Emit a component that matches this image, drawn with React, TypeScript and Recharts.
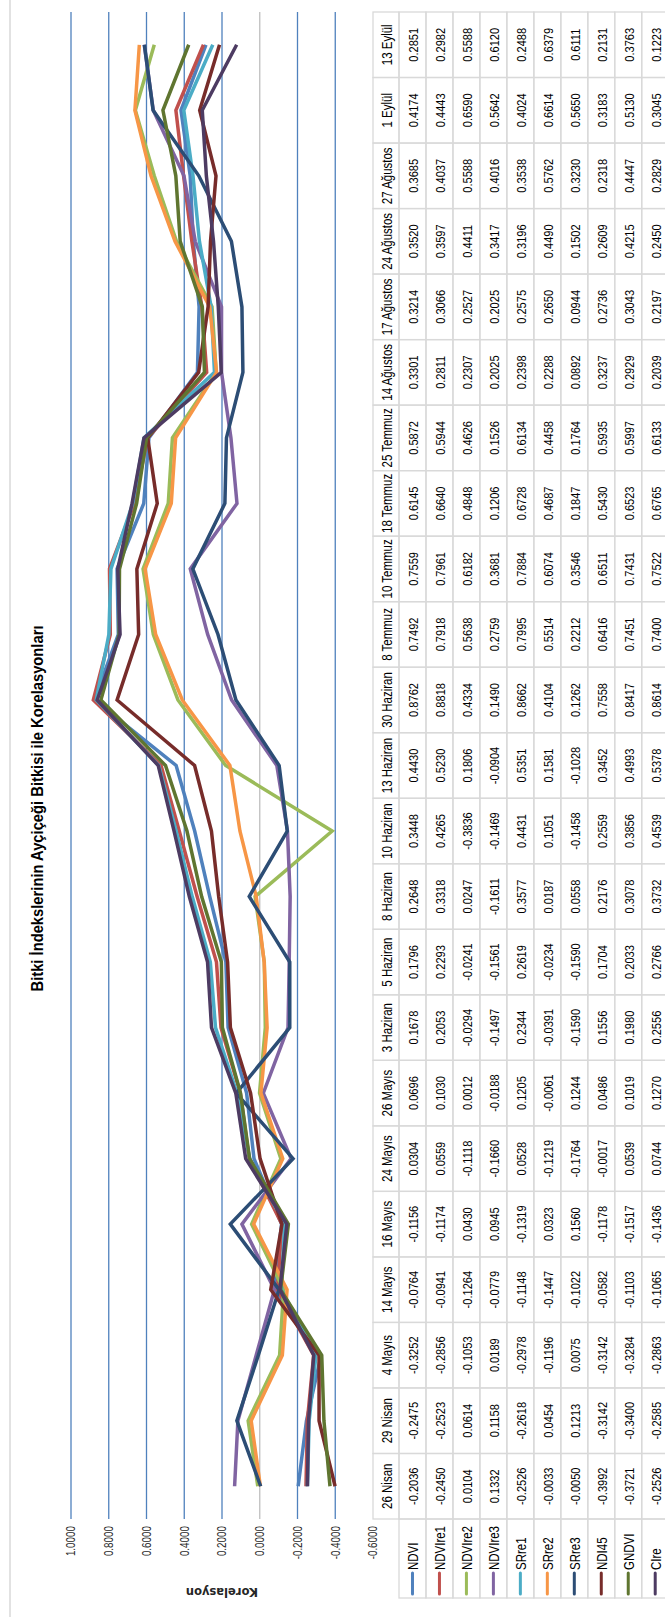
import React from 'react';
import { LineChart, Line, XAxis, YAxis, ReferenceLine } from 'recharts';

// Sampling dates (category axis)
const DATES = [
  '26 Nisan', '29 Nisan', '4 Mayıs', '14 Mayıs', '16 Mayıs', '24 Mayıs', '26 Mayıs',
  '3 Haziran', '5 Haziran', '8 Haziran', '10 Haziran', '13 Haziran', '30 Haziran',
  '8 Temmuz', '10 Temmuz', '18 Temmuz', '25 Temmuz', '14 Ağustos', '17 Ağustos',
  '24 Ağustos', '27 Ağustos', '1 Eylül', '13 Eylül',
];

// Correlation values per vegetation index
const NDVI = [-0.2036, -0.2475, -0.3252, -0.0764, -0.1156, 0.0304, 0.0696, 0.1678, 0.1796, 0.2648, 0.3448, 0.4430, 0.8762, 0.7492, 0.7559, 0.6145, 0.5872, 0.3301, 0.3214, 0.3520, 0.3685, 0.4174, 0.2851];
const NDVIre1 = [-0.2450, -0.2523, -0.2856, -0.0941, -0.1174, 0.0559, 0.1030, 0.2053, 0.2293, 0.3318, 0.4265, 0.5230, 0.8818, 0.7918, 0.7961, 0.6640, 0.5944, 0.2811, 0.3066, 0.3597, 0.4037, 0.4443, 0.2982];
const NDVIre2 = [0.0104, 0.0614, -0.1053, -0.1264, 0.0430, -0.1118, 0.0012, -0.0294, -0.0241, 0.0247, -0.3836, 0.1806, 0.4334, 0.5638, 0.6182, 0.4848, 0.4626, 0.2307, 0.2527, 0.4411, 0.5588, 0.6590, 0.5588];
const NDVIre3 = [0.1332, 0.1158, 0.0189, -0.0779, 0.0945, -0.1660, -0.0188, -0.1497, -0.1561, -0.1611, -0.1469, -0.0904, 0.1490, 0.2759, 0.3681, 0.1206, 0.1526, 0.2025, 0.2025, 0.3417, 0.4016, 0.5642, 0.6120];
const SRre1 = [-0.2526, -0.2618, -0.2978, -0.1148, -0.1319, 0.0528, 0.1205, 0.2344, 0.2619, 0.3577, 0.4431, 0.5351, 0.8662, 0.7995, 0.7884, 0.6728, 0.6134, 0.2398, 0.2575, 0.3196, 0.3538, 0.4024, 0.2488];
const SRre2 = [-0.0033, 0.0454, -0.1196, -0.1447, 0.0323, -0.1219, -0.0061, -0.0391, -0.0234, 0.0187, 0.1051, 0.1581, 0.4104, 0.5514, 0.6074, 0.4687, 0.4458, 0.2288, 0.2650, 0.4490, 0.5762, 0.6614, 0.6379];
const SRre3 = [-0.0050, 0.1213, 0.0075, -0.1022, 0.1560, -0.1764, 0.1244, -0.1590, -0.1590, 0.0558, -0.1458, -0.1028, 0.1262, 0.2212, 0.3546, 0.1847, 0.1764, 0.0892, 0.0944, 0.1502, 0.3230, 0.5650, 0.6111];
const NDI45 = [-0.3992, -0.3142, -0.3142, -0.0582, -0.1178, -0.0017, 0.0486, 0.1556, 0.1704, 0.2176, 0.2559, 0.3452, 0.7558, 0.6416, 0.6511, 0.5430, 0.5935, 0.3237, 0.2736, 0.2609, 0.2318, 0.3183, 0.2131];
const GNDVI = [-0.3721, -0.3400, -0.3284, -0.1103, -0.1517, 0.0539, 0.1019, 0.1980, 0.2033, 0.3078, 0.3856, 0.4993, 0.8417, 0.7451, 0.7431, 0.6523, 0.5997, 0.2929, 0.3043, 0.4215, 0.4447, 0.5130, 0.3763];
const CIre = [-0.2526, -0.2585, -0.2863, -0.1065, -0.1436, 0.0744, 0.1270, 0.2556, 0.2766, 0.3732, 0.4539, 0.5378, 0.8614, 0.7400, 0.7522, 0.6765, 0.6133, 0.2039, 0.2197, 0.2450, 0.2829, 0.3045, 0.1223];

const SERIES_NAMES = ['NDVI', 'NDVIre1', 'NDVIre2', 'NDVIre3', 'SRre1', 'SRre2', 'SRre3', 'NDI45', 'GNDVI', 'CIre'];
const SERIES_VALUES = [NDVI, NDVIre1, NDVIre2, NDVIre3, SRre1, SRre2, SRre3, NDI45, GNDVI, CIre];
const SERIES_COLORS = ['#4F81BD', '#C0504D', '#9BBB59', '#8064A2', '#4BACC6', '#F79646', '#2C4D75', '#772C2A', '#5F7530', '#4D3B62'];

const Y_TICKS = [-0.6, -0.4, -0.2, 0, 0.2, 0.4, 0.6, 0.8, 1.0];
const GRID_VALUES = [-0.4, -0.2, 0.2, 0.4, 0.6, 0.8, 1.0];

const TITLE = 'Bitki İndekslerinin Ayçiçeği Bitkisi ile Korelasyonları';
const Y_TITLE = 'Korelasyon';

const rows = DATES.map((date, i) => {
  const row: Record<string, string | number> = { date };
  SERIES_NAMES.forEach((name, s) => {
    row[name] = SERIES_VALUES[s][i];
  });
  return row;
});

// Layout of the unrotated chart (landscape), turned a quarter counter-clockwise on the page
const W = 1617;
const H = 665;
const PLOT_LEFT = 98;
const PLOT_RIGHT = 1605;
const PLOT_TOP = 71;
const PLOT_BOTTOM = 373;
const BAND = (PLOT_RIGHT - PLOT_LEFT) / DATES.length;
const TABLE_TOP = PLOT_BOTTOM;
const HEADER_H = 26;
const ROW_H = 26.97;
const LEGEND_LEFT = 19;

const FONT = "'Liberation Sans', Arial, sans-serif";
const SQUEEZE = 0.82; // horizontal squeeze giving a narrow face
const BORDER = '#D9D9D9';

type NTProps = {
  x: number;
  y: number;
  size: number;
  anchor?: 'start' | 'middle' | 'end';
  bold?: boolean;
  fill?: string;
  children: React.ReactNode;
};

function NarrowText({ x, y, size, anchor = 'start', bold = false, fill = '#000', children }: NTProps) {
  return (
    <text
      transform={`translate(${x} ${y}) scale(${SQUEEZE} 1)`}
      x={0}
      y={0}
      textAnchor={anchor}
      dominantBaseline="central"
      fontFamily={FONT}
      fontWeight={bold ? 'bold' : 'normal'}
      fontSize={size}
      fill={fill}
    >
      {children}
    </text>
  );
}

function YTick(props: any) {
  const { x, y, payload } = props;
  return (
    <NarrowText x={x} y={y} size={12} anchor="end" fill="#262626">
      {Number(payload.value).toFixed(4)}
    </NarrowText>
  );
}

function DataTable() {
  const midY = (PLOT_TOP + PLOT_BOTTOM) / 2;
  return (
    <svg
      width={W}
      height={H}
      style={{ position: 'absolute', left: 0, top: 0, pointerEvents: 'none' }}
    >
      <line x1={0} x2={W} y1={10} y2={10} stroke={BORDER} strokeWidth={1.5} />
      <text
        x={W / 2}
        y={37}
        textAnchor="middle"
        dominantBaseline="central"
        fontFamily={FONT}
        fontWeight="bold"
        fontSize={16.5}
        textLength={366}
        lengthAdjust="spacingAndGlyphs"
        fill="#000"
      >
        {TITLE}
      </text>
      <text
        x={25}
        y={midY}
        transform={`rotate(-90 25 ${midY})`}
        textAnchor="middle"
        dominantBaseline="central"
        fontFamily="'DejaVu Sans', sans-serif"
        fontWeight="bold"
        fontSize={11.5}
        fill="#262626"
      >
        {Y_TITLE}
      </text>

      {/* header row with the dates */}
      {DATES.map((d, i) => {
        const x = PLOT_LEFT + i * BAND;
        return (
          <g key={d}>
            <rect x={x} y={TABLE_TOP} width={BAND} height={HEADER_H} fill="none" stroke={BORDER} strokeWidth={1.3} />
            <NarrowText x={x + BAND / 2} y={TABLE_TOP + HEADER_H / 2 + 1} size={14} anchor="middle">
              {d}
            </NarrowText>
          </g>
        );
      })}

      {/* one row per index: legend key, name and values */}
      {SERIES_NAMES.map((name, s) => {
        const y = TABLE_TOP + HEADER_H + s * ROW_H;
        const cy = y + ROW_H / 2;
        return (
          <g key={name}>
            <rect x={LEGEND_LEFT} y={y} width={PLOT_LEFT - LEGEND_LEFT} height={ROW_H} fill="none" stroke={BORDER} strokeWidth={1.3} />
            <line x1={23} x2={44} y1={cy} y2={cy} stroke={SERIES_COLORS[s]} strokeWidth={3} strokeLinecap="round" />
            <NarrowText x={47} y={cy + 1} size={14}>
              {name}
            </NarrowText>
            {SERIES_VALUES[s].map((v, i) => {
              const x = PLOT_LEFT + i * BAND;
              return (
                <g key={i}>
                  <rect x={x} y={y} width={BAND} height={ROW_H} fill="none" stroke={BORDER} strokeWidth={1.3} />
                  <NarrowText x={x + BAND / 2} y={cy + 1} size={13.5} anchor="middle">
                    {v.toFixed(4)}
                  </NarrowText>
                </g>
              );
            })}
          </g>
        );
      })}
    </svg>
  );
}

export default function App() {
  return (
    <div style={{ position: 'absolute', left: 0, top: 0, width: H, height: W, overflow: 'hidden', background: '#fff' }}>
      <div
        style={{
          position: 'absolute',
          left: 0,
          top: 0,
          width: W,
          height: H,
          transformOrigin: '0 0',
          transform: `translateY(${W}px) rotate(-90deg)`,
        }}
      >
        <LineChart
          width={W}
          height={H}
          data={rows}
          margin={{ top: PLOT_TOP, right: W - PLOT_RIGHT, bottom: H - PLOT_BOTTOM, left: 0 }}
        >
          <XAxis dataKey="date" hide padding={{ left: BAND / 2, right: BAND / 2 }} />
          <YAxis
            type="number"
            width={PLOT_LEFT}
            domain={[-0.6, 1]}
            ticks={Y_TICKS}
            interval={0}
            axisLine={false}
            tickLine={false}
            tickSize={0}
            tickMargin={7}
            tick={<YTick />}
          />
          {GRID_VALUES.map((v) => (
            <ReferenceLine key={v} y={v} stroke="#4F81BD" strokeWidth={1.3} />
          ))}
          <ReferenceLine y={0} stroke="#BFBFBF" strokeWidth={1.3} />
          {SERIES_NAMES.map((name, s) => (
            <Line
              key={name}
              type="linear"
              dataKey={name}
              stroke={SERIES_COLORS[s]}
              strokeWidth={3.5}
              dot={false}
              activeDot={false}
              isAnimationActive={false}
            />
          ))}
        </LineChart>
        <DataTable />
      </div>
    </div>
  );
}
